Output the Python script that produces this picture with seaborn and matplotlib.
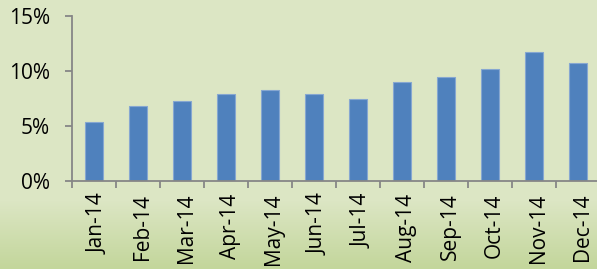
import numpy as np
import pandas as pd
import matplotlib
matplotlib.use('Agg')
import matplotlib.pyplot as plt
import matplotlib.transforms as mtransforms
from matplotlib.ticker import PercentFormatter, MultipleLocator
from matplotlib.colors import LinearSegmentedColormap
import seaborn as sns

# Monthly values (percent)
months = ['Jan-14', 'Feb-14', 'Mar-14', 'Apr-14', 'May-14', 'Jun-14',
          'Jul-14', 'Aug-14', 'Sep-14', 'Oct-14', 'Nov-14', 'Dec-14']
rates = [5.35, 6.8, 7.27, 7.88, 8.24, 7.94, 7.48, 8.97, 9.48, 10.2, 11.7, 10.75]

df = pd.DataFrame({'month': months, 'rate': rates})

sns.set_style('white')
plt.rcParams['font.family'] = ['Open Sans', 'DejaVu Sans']

fig = plt.figure(figsize=(5.97, 2.69), dpi=100)

# light green background with a darker band at the bottom
bg = fig.add_axes([0, 0, 1, 1], zorder=-10)
grad = np.ones(269)
grad[200:] = np.linspace(1, 0, 69)
bg_cmap = LinearSegmentedColormap.from_list('bg', ['#C3D69B', '#DCE6C4'])
bg.imshow(grad[:, None], aspect='auto', cmap=bg_cmap, extent=[0, 1, 0, 1], origin='upper')
bg.axis('off')

ax = fig.add_axes([72 / 597, 1 - 181 / 269, 528 / 597, 165 / 269])
ax.patch.set_alpha(0)

sns.barplot(data=df, x='month', y='rate', color='#4F81BD', saturation=1,
            width=0.41, edgecolor='#86A7D1', linewidth=0.8, ax=ax)

ax.set_xlim(-0.5, 11.5)
ax.set_ylim(0, 15)
ax.yaxis.set_major_locator(MultipleLocator(5))
ax.yaxis.set_major_formatter(PercentFormatter(xmax=100, decimals=0))
ax.set_xlabel('')
ax.set_ylabel('')

for s in ['top', 'right']:
    ax.spines[s].set_visible(False)
for s in ['left', 'bottom']:
    ax.spines[s].set_color('#868686')
    ax.spines[s].set_linewidth(1.3)

ax.set_xticks(np.arange(-0.5, 12, 1), minor=True)
ax.tick_params(axis='x', which='major', length=0, pad=9, labelsize=15)
ax.tick_params(axis='x', which='minor', length=5, width=1.3, color='#868686', direction='out')
ax.tick_params(axis='y', length=5, width=1.3, color='#868686', direction='out', pad=11, labelsize=15)
ax.tick_params(axis='both', labelcolor='black')
ax.xaxis.set_ticks_position('bottom')
ax.yaxis.set_ticks_position('left')
shift = mtransforms.ScaledTranslation(4 / 100, 0, fig.dpi_scale_trans)
for lbl in ax.get_xticklabels():
    lbl.set_rotation(90)
    lbl.set_ha('center')
    lbl.set_va('top')
    lbl.set_transform(lbl.get_transform() + shift)

fig.savefig('out.png', dpi=100)
